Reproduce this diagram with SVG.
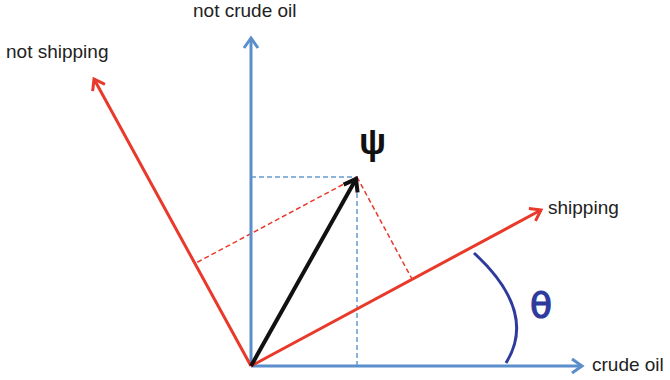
<svg xmlns="http://www.w3.org/2000/svg" width="670" height="380" viewBox="0 0 670 380">
<style>
.lbl{font-family:"Liberation Sans",Arial,sans-serif;font-size:19px;fill:#222}
.blue{stroke:#5b8fcb;stroke-width:3;fill:none}
.red{stroke:#e8392a;stroke-width:3;fill:none}
.blk{stroke:#111;stroke-width:4;fill:none}
.dblue{stroke:#6a9ad0;stroke-width:1.5;stroke-dasharray:5 3;fill:none}
.dred{stroke:#e8392a;stroke-width:1.5;stroke-dasharray:5 3;fill:none}
</style>
<defs>
<marker id="ab" markerUnits="userSpaceOnUse" markerWidth="20" markerHeight="20" viewBox="-12 -10 14 20" refX="0" refY="0" orient="auto"><path d="M-10,-7 L0,0 L-10,7" fill="none" stroke="#5b8fcb" stroke-width="3"/></marker>
<marker id="ar" markerUnits="userSpaceOnUse" markerWidth="20" markerHeight="20" viewBox="-12 -10 14 20" refX="0" refY="0" orient="auto"><path d="M-10,-7 L0,0 L-10,7" fill="none" stroke="#e8392a" stroke-width="3"/></marker>
<marker id="ak" markerUnits="userSpaceOnUse" markerWidth="24" markerHeight="24" viewBox="-14 -12 16 24" refX="0" refY="0" orient="auto"><path d="M-11,-8 L0,0 L-11,8" fill="none" stroke="#111" stroke-width="4"/></marker>
</defs>
<g id="connectors">
<line class="dblue" x1="251" y1="177" x2="357" y2="177"/>
<line class="dblue" x1="357" y1="177" x2="357" y2="366"/>
<line class="dred" x1="357" y1="177" x2="412" y2="279"/>
<line class="dred" x1="357" y1="177" x2="194" y2="264"/>
<line class="blue" x1="251" y1="366" x2="251" y2="38" marker-end="url(#ab)"/>
<line class="blue" x1="251" y1="366" x2="582" y2="366" marker-end="url(#ab)"/>
<line class="red" x1="251" y1="366" x2="541" y2="210" marker-end="url(#ar)"/>
<line class="red" x1="251" y1="366" x2="94" y2="79" marker-end="url(#ar)"/>
<line class="blk" x1="251" y1="366" x2="356" y2="179" marker-end="url(#ak)"/>
<path d="M474,253 Q538,312 506,363" fill="none" stroke="#2e3b9c" stroke-width="3"/>
</g>
<g id="labels">
<text class="lbl" x="193" y="17">not crude oil</text>
<text class="lbl" x="6" y="58">not shipping</text>
<text class="lbl" x="548" y="214">shipping</text>
<text class="lbl" x="592" y="371">crude oil</text>
<text x="359" y="154" font-family="Liberation Sans,sans-serif" font-weight="bold" font-size="36" fill="#111">ψ</text>
<text x="530" y="318" font-family="DejaVu Sans,sans-serif" font-size="36" fill="#2e3b9c" stroke="#2e3b9c" stroke-width="1.2">θ</text>
</g>
</svg>
